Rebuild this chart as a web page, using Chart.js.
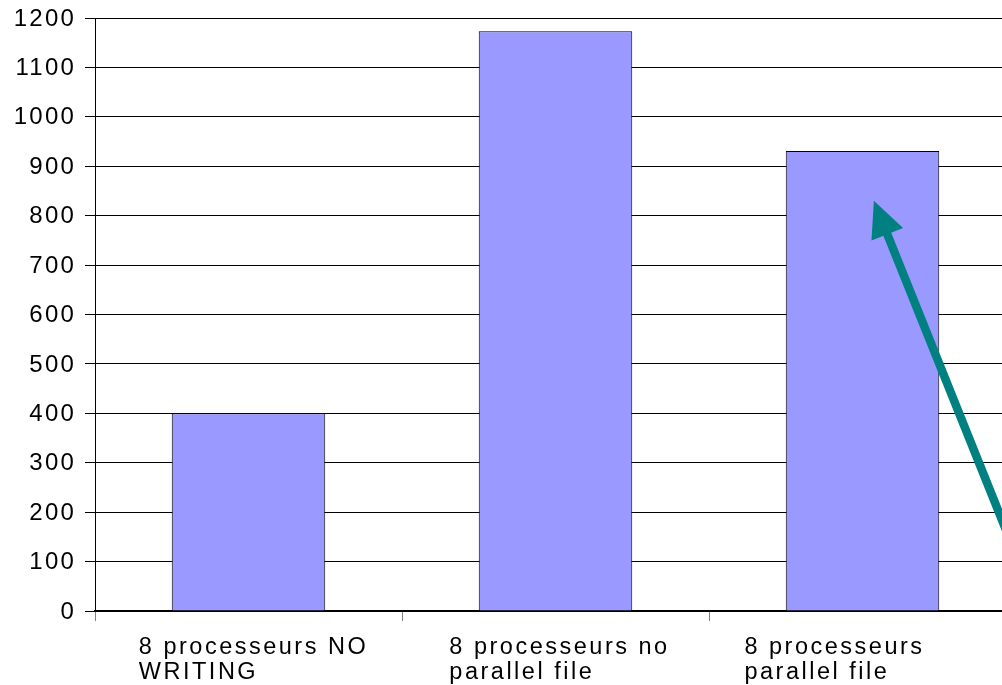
<!DOCTYPE html>
<html>
<head>
<meta charset="utf-8">
<script src="https://cdn.jsdelivr.net/npm/chart.js@4.4.1/dist/chart.umd.min.js"></script>
<style>
  html, body { margin: 0; padding: 0; background: #fff; overflow: hidden; }
  #wrap { position: relative; width: 1030px; height: 685px; }
</style>
</head>
<body>
<div id="wrap"><canvas id="chart"></canvas></div>
<script>
// Run configurations and their timings
const categories = [
  ['8 processeurs NO', 'WRITING'],
  ['8 processeurs no', 'parallel file'],
  ['8 processeurs', 'parallel file']
];
const timings = [400, 1173, 931];
const yTicks = [0, 100, 200, 300, 400, 500, 600, 700, 800, 900, 1000, 1100, 1200];

// Arrow annotation, in axis units (category index, value)
const arrowFrom = { x: 2.55, y: 36 };
const arrowTo = { x: 2.037, y: 830 };

const FAMILY = '"Liberation Sans", Arial, sans-serif';
const AXIS_FONT = { family: FAMILY, size: 24 };
const AXIS_SPACING = '2.2px';
const CAT_SIZE = 23.5;
const CAT_SPACING = '2.5px';
// horizontal nudge of each category label block
const labelNudge = [5, 4, -28];

const spacingPlugin = {
  id: 'spacing',
  beforeUpdate(chart) { chart.ctx.letterSpacing = AXIS_SPACING; },
  beforeDraw(chart) { chart.ctx.letterSpacing = AXIS_SPACING; }
};

const categoryLabels = {
  id: 'categoryLabels',
  afterDraw(chart) {
    const ctx = chart.ctx;
    const xs = chart.scales.x;
    ctx.save();
    ctx.letterSpacing = CAT_SPACING;
    ctx.font = CAT_SIZE + 'px ' + FAMILY;
    ctx.fillStyle = '#000';
    ctx.textAlign = 'left';
    ctx.textBaseline = 'alphabetic';
    const lineH = 25.5;
    categories.forEach((lines, i) => {
      const cx = xs.getPixelForValue(i);
      const w = Math.max(...lines.map(l => ctx.measureText(l).width));
      const left = cx - w / 2 + labelNudge[i];
      lines.forEach((l, k) => {
        ctx.fillText(l, left, chart.chartArea.bottom + 42.5 + k * lineH);
      });
    });
    ctx.restore();
  }
};

const arrowPlugin = {
  id: 'arrow',
  afterDatasetsDraw(chart) {
    const { x, y } = chart.scales;
    const x0 = x.getPixelForValue(arrowFrom.x), y0 = y.getPixelForValue(arrowFrom.y);
    const x1 = x.getPixelForValue(arrowTo.x), y1 = y.getPixelForValue(arrowTo.y);
    const dx = x1 - x0, dy = y1 - y0;
    const len = Math.hypot(dx, dy);
    const ux = dx / len, uy = dy / len;
    const headLen = 36, headHalf = 17;
    const bx = x1 - ux * headLen, by = y1 - uy * headLen;
    const ctx = chart.ctx;
    ctx.save();
    ctx.strokeStyle = '#008080';
    ctx.fillStyle = '#008080';
    ctx.lineWidth = 8.5;
    ctx.beginPath();
    ctx.moveTo(x0, y0);
    ctx.lineTo(bx + ux * 4, by + uy * 4);
    ctx.stroke();
    ctx.beginPath();
    ctx.moveTo(x1, y1);
    ctx.lineTo(bx - uy * headHalf, by + ux * headHalf);
    ctx.lineTo(bx + uy * headHalf, by - ux * headHalf);
    ctx.closePath();
    ctx.fill();
    ctx.restore();
  }
};

new Chart(document.getElementById('chart'), {
  type: 'bar',
  data: {
    labels: categories,
    datasets: [{
      data: timings,
      backgroundColor: '#9999ff',
      borderColor: '#000',
      borderWidth: 1,
      categoryPercentage: 0.5,
      barPercentage: 1
    }]
  },
  options: {
    responsive: true,
    maintainAspectRatio: false,
    animation: false,
    devicePixelRatio: 1,
    layout: { padding: { top: 18, right: 14, left: 0, bottom: 0 } },
    plugins: { legend: { display: false }, tooltip: { enabled: false } },
    scales: {
      x: {
        offset: true,
        grid: { offset: true, drawOnChartArea: false, drawTicks: true, tickLength: 10, color: '#808080', lineWidth: 1 },
        border: { display: true, color: '#000', width: 2 },
        ticks: { display: false },
        afterFit(s) { s.height = 74; s.paddingLeft = 0; s.paddingRight = 0; }
      },
      y: {
        min: 0,
        max: 1200,
        afterBuildTicks(s) { s.ticks = yTicks.map(v => ({ value: v })); },
        grid: { color: '#000', lineWidth: 1, drawTicks: true, tickLength: 10 },
        border: { display: true, color: '#000', width: 1 },
        ticks: { color: '#000', font: AXIS_FONT, padding: 9, labelOffset: 1, callback: v => String(v) },
        afterFit(s) { s.width = 95; s.paddingTop = 0; s.paddingBottom = 0; }
      }
    }
  },
  plugins: [spacingPlugin, arrowPlugin, categoryLabels]
});
</script>
</body>
</html>
